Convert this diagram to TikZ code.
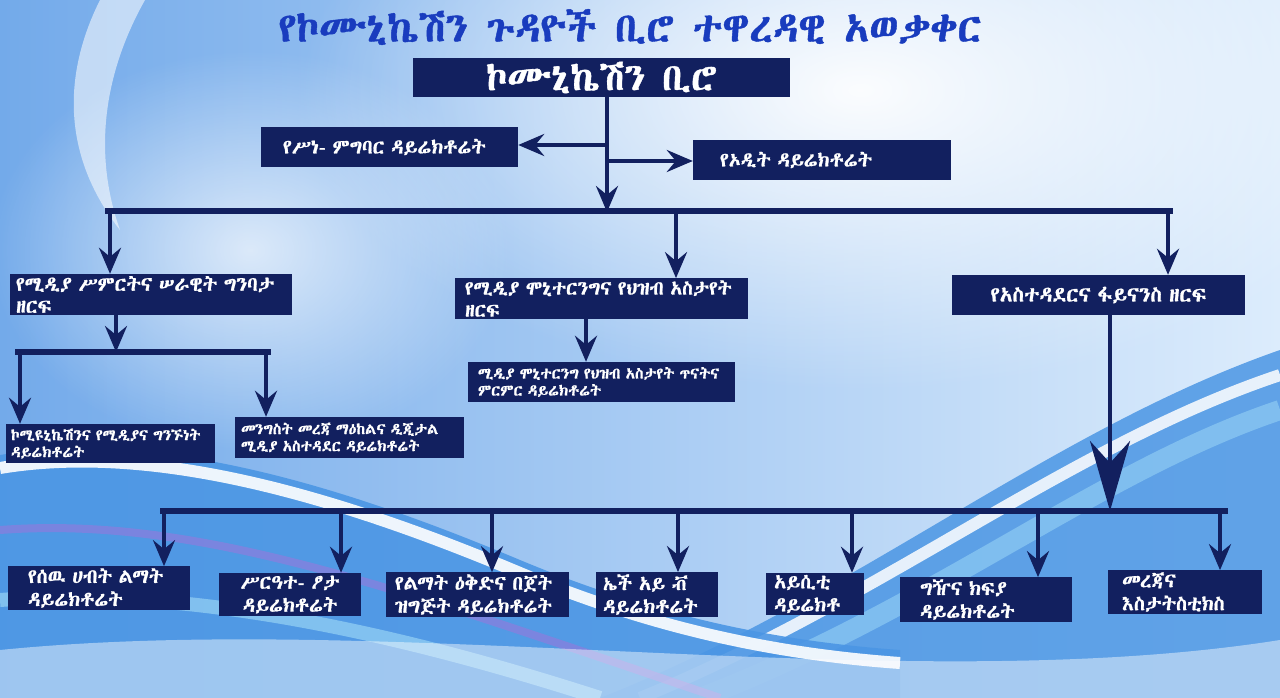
\documentclass[tikz,border=0pt]{standalone}
\usepackage{fontspec}
\usetikzlibrary{arrows.meta,fadings}
\IfFontExistsTF{Abyssinica SIL}{\newfontfamily\ethfont{Abyssinica SIL}[FakeBold=1]}{%
 \IfFontExistsTF{FreeSerif}{\newfontfamily\ethfont{FreeSerif}[FakeBold=1]}{%
  \IfFontExistsTF{Noto Sans Ethiopic}{\newfontfamily\ethfont{Noto Sans Ethiopic}[FakeBold=1]}{%
   \newfontfamily\ethfont{DejaVu Sans}}}}
\definecolor{navy}{RGB}{18,32,95}
\definecolor{ttlblue}{RGB}{25,60,190}
\definecolor{bgA}{RGB}{115,170,234}
\definecolor{bgB}{RGB}{220,236,252}
\definecolor{waveA}{RGB}{75,150,228}
\definecolor{waveB}{RGB}{150,210,245}
\definecolor{purp}{RGB}{150,120,220}
\tikzfading[name=glow, inner color=transparent!0, outer color=transparent!100]
\tikzset{
  box/.style={fill=navy, text=white, inner ysep=2pt, align=left, font=\ethfont},
  conn/.style={draw=navy, line width=4pt},
  bar/.style={draw=navy, line width=6pt, line cap=rect},
  arr/.style={conn, -{Stealth[length=26pt,width=22pt,inset=9pt]}},
  bigarr/.style={conn, -{Stealth[length=70pt,width=40pt,inset=22pt]}},
  fA/.style={font=\ethfont\fontsize{41}{46}\selectfont},
  fB/.style={font=\ethfont\fontsize{38}{42}\selectfont},
  fC/.style={font=\ethfont\fontsize{20}{24}\selectfont},
  fD/.style={font=\ethfont\fontsize{20}{22}\selectfont},
  fDb/.style={font=\ethfont\fontsize{19.5}{22}\selectfont},
  fDc/.style={font=\ethfont\fontsize{21}{24}\selectfont},
  fE/.style={font=\ethfont\fontsize{15.5}{17}\selectfont},
  fF/.style={font=\ethfont\fontsize{20}{23}\selectfont},
}
\begin{document}
\begin{tikzpicture}[x=1pt,y=-1pt]
\useasboundingbox (0,0) rectangle (1280,698);
% ---------- background ----------
\shade[left color=bgA, right color=bgB] (0,0) rectangle (1280,698);
\fill[white, path fading=glow, opacity=0.95] (860,90) ellipse (560 and 300);
\fill[white, path fading=glow, opacity=0.7] (250,250) ellipse (260 and 200);
\fill[white, opacity=0.55] (100,0) .. controls (60,80) and (65,160) .. (120,230)
   .. controls (95,160) and (100,80) .. (145,0) -- cycle;
% right rising wave
\fill[waveA, opacity=0.85] (600,698) .. controls (850,600) and (1050,430) .. (1280,350) -- (1280,698) -- cycle;
\draw[white, line width=12pt, opacity=0.85] (640,698) .. controls (880,600) and (1070,445) .. (1280,375);
\draw[waveB, line width=20pt, opacity=0.6] (700,698) .. controls (930,610) and (1100,470) .. (1280,410);
% left wave
\fill[waveA, opacity=0.9] (0,455) .. controls (150,430) and (330,480) .. (520,560)
   .. controls (640,610) and (760,640) .. (900,650) -- (900,698) -- (0,698) -- cycle;
\draw[white, line width=12pt, opacity=0.9] (0,468) .. controls (150,443) and (330,493) .. (520,573)
   .. controls (640,623) and (760,653) .. (900,663);
\draw[purp, line width=8pt, opacity=0.6] (0,530) .. controls (200,515) and (400,590) .. (720,698);
\draw[waveB, line width=14pt, opacity=0.7] (0,600) .. controls (200,585) and (420,640) .. (600,698);
\fill[white, opacity=0.45] (0,650) .. controls (400,610) and (900,700) .. (1280,640) -- (1280,698) -- (0,698) -- cycle;
% ---------- title ----------
\node[fA, text=ttlblue] (ttl) at (630,27) {የኮሙኒኬሽን ጉዳዮች ቢሮ ተዋረዳዊ አወቃቀር};
% ---------- boxes ----------
\node[box, fB, align=center, minimum width=377pt, minimum height=39pt] (top) at (601.5,77.5) {ኮሙኒኬሽን ቢሮ};
\node[box, fC, inner xsep=22pt, text width=213pt, minimum height=40pt] (eth) at (389.5,147) {የሥነ- ምግባር ዳይሬክቶሬት};
\node[box, fC, inner xsep=27pt, text width=204pt, minimum height=40pt] (aud) at (822,160) {የኦዲት ዳይሬክቶሬት};
\node[box, fD, inner xsep=6pt, text width=270pt, minimum height=41pt] (La) at (151,294.5) {የሚዲያ ሥምርትና ሠራዊት ግንባታ\\ዘርፍ};
\node[box, fDb, inner xsep=10pt, text width=273pt, minimum height=39pt] (Lb) at (601.5,298.5) {የሚዲያ ሞኒተርንግና የህዝብ አስታየት\\ዘርፍ};
\node[box, fDc, align=center, inner xsep=6pt, text width=281pt, minimum height=40pt] (Lc) at (1098.5,295) {የአስተዳደርና ፋይናንስ ዘርፍ};
\node[box, fE, inner xsep=5pt, text width=199pt, minimum height=39pt] (Ma) at (110.5,443.5) {ኮሚዩኒኬሽንና የሚዲያና ግንኙነት\\ዳይሬክቶሬት};
\node[box, fE, inner xsep=6pt, text width=217pt, minimum height=41pt] (Mb) at (349.5,437.5) {መንግስት መረጃ ማዕከልና ዲጂታል\\ ሚዲያ አስተዳደር ዳይሬክቶሬት};
\node[box, fE, inner xsep=10pt, text width=247pt, minimum height=40pt] (Mc) at (601.5,382) {ሚዲያ ሞኒተርንግ የህዝብ አስታየት ጥናትና\\ምርምር ዳይሬክቶሬት};
\node[box, fF, inner xsep=20pt, text width=142pt, minimum height=42pt] (B1) at (99,588) {የሰዉ ሀብት ልማት\\ዳይሬክቶሬት};
\node[box, fF, align=center, inner xsep=4pt, text width=134pt, minimum height=43pt] (B2) at (290,594.5) {ሥርዓተ- ፆታ\\ዳይሬክቶሬት};
\node[box, fF, inner xsep=9pt, text width=165pt, minimum height=43pt] (B3) at (477.5,594.5) {የልማት ዕቅድና በጀት\\ዝግጅት ዳይሬክቶሬት};
\node[box, fF, inner xsep=7pt, text width=108pt, minimum height=43pt] (B4) at (657,594.5) {ኤች አይ ቭ\\ዳይሬክቶሬት};
\node[box, fF, inner xsep=8pt, text width=82pt, minimum height=42pt] (B5) at (815,594) {አይሲቲ\\ዳይሬክቶ};
\node[box, fF, inner xsep=20pt, text width=132pt, minimum height=43pt] (B6) at (986,599.5) {ግዥና ክፍያ\\ዳይሬክቶሬት};
\node[box, fF, inner xsep=14pt, text width=126pt, minimum height=42pt] (B7) at (1185,592) {መረጃና\\እስታትስቲክስ};
% ---------- connectors ----------
\coordinate (t1) at (607,211);
\coordinate (e1) at (607,145);
\coordinate (a1) at (607,161);
\coordinate (b1w) at (108,211);
\coordinate (b1e) at (1170,211);
\coordinate (d1) at (110,211);
\coordinate (d2) at (676,211);
\coordinate (d3) at (1168,211);
\draw[conn] (top.south -| t1) -- (t1);
\draw[arr] (top.south -| t1) -- ([yshift=-1pt]t1);
\draw[arr] (e1) -- (e1 -| eth.east);
\draw[arr] (a1) -- (a1 -| aud.west);
\draw[bar] (b1w) -- (b1e);
\draw[arr] (d1) -- (d1 |- La.north);
\draw[arr] (d2) -- (d2 |- Lb.north);
\draw[arr] (d3) -- (d3 |- Lc.north);
% left branch
\coordinate (s1) at (116,352);
\coordinate (s1w) at (18,352);
\coordinate (s1e) at (268,352);
\coordinate (s1a) at (20,352);
\coordinate (s1b) at (266,352);
\draw[arr] (La.south -| s1) -- (s1);
\draw[bar] (s1w) -- (s1e);
\draw[arr] (s1a) -- (s1a |- Ma.north);
\draw[arr] (s1b) -- (s1b |- Mb.north);
% middle branch
\coordinate (m1) at (586,340);
\draw[arr] (Lb.south -| m1) -- (m1 |- Mc.north);
% right branch
\coordinate (r1) at (1110,511);
\coordinate (b2w) at (163,511);
\coordinate (b2e) at (1225,511);
\draw[bigarr] (Lc.south -| r1) -- (r1);
\draw[bar] (b2w) -- (b2e);
\foreach \x/\n in {164/B1,341/B2,492/B3,678/B4,852/B5,1038/B6,1220/B7}{
  \coordinate (q\n) at (\x,511);
  \draw[arr] (q\n) -- (q\n |- \n.north);
}
\end{tikzpicture}
\end{document}
